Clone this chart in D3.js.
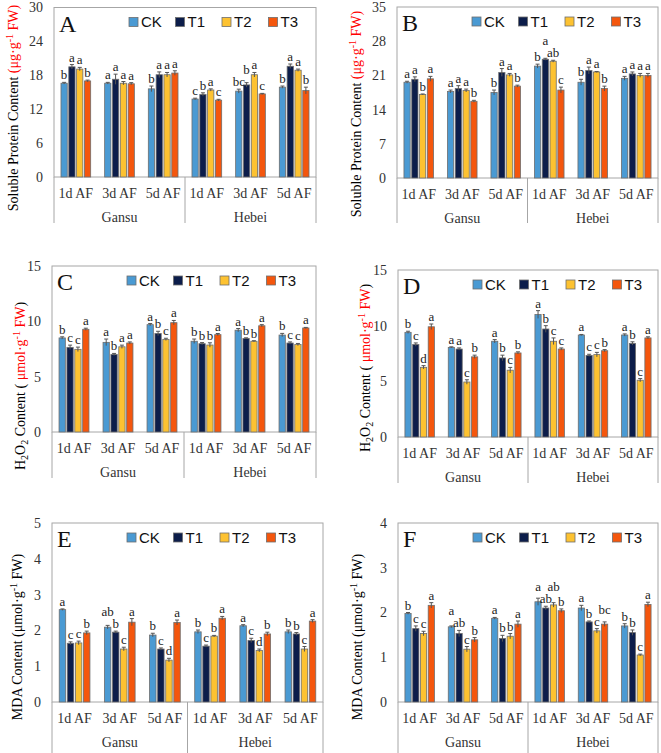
<!DOCTYPE html>
<html>
<head>
<meta charset="utf-8">
<script src="https://cdn.jsdelivr.net/npm/d3@7"></script>
<style>
  body { margin: 0; background: #fff; }
  svg { display: block; font-family: 'Liberation Serif', 'Times New Roman', serif; }
</style>
</head>
<body>
<div class="chart"></div>
<script>
// categories and series
var categories = ['1d AF', '3d AF', '5d AF', '1d AF', '3d AF', '5d AF'];
var groups = ['Gansu', 'Hebei'];
var series = ['CK', 'T1', 'T2', 'T3'];
var colors = ['#4a9ad3', '#0c1d4a', '#fdc231', '#f4560d'];

// y ticks per panel
var ticksA = [0, 6, 12, 18, 24, 30];
var ticksB = [0, 7, 14, 21, 28, 35];
var ticksC = [0, 5, 10, 15];
var ticksD = [0, 5, 10, 15];
var ticksE = [0, 1, 2, 3, 4, 5];
var ticksF = [0, 1, 2, 3, 4];

// A: soluble protein, rows = CK, T1, T2, T3
var valuesA = [
  [16.6, 16.6, 15.6, 13.8, 15.2, 15.9],
  [19.5, 17.3, 18.1, 14.6, 16.3, 19.6],
  [19.1, 16.6, 18.1, 15.4, 18.1, 18.9],
  [17.0, 16.5, 18.4, 13.6, 14.7, 15.3]
];
var errorsA = [
  [0.15, 0.15, 0.5, 0.15, 0.35, 0.2],
  [0.4, 0.9, 0.5, 0.3, 0.4, 0.4],
  [0.3, 0.3, 0.4, 0.2, 0.4, 0.2],
  [0.15, 0.2, 0.4, 0.15, 0.1, 0.6]
];
var lettersA = [
  ['b', 'a', 'b', 'c', 'bc', 'b'],
  ['a', 'a', 'a', 'b', 'b', 'a'],
  ['a', 'a', 'a', 'a', 'a', 'a'],
  ['b', 'a', 'a', 'c', 'c', 'b']
];

// B: soluble protein
var valuesB = [
  [19.6, 17.7, 17.5, 22.9, 19.6, 20.4],
  [20.2, 18.3, 21.6, 24.3, 22.0, 21.3],
  [17.1, 17.9, 21.1, 23.9, 21.7, 21.0],
  [20.3, 15.7, 18.8, 18.0, 18.3, 21.0]
];
var errorsB = [
  [0.2, 0.3, 0.5, 0.4, 0.6, 0.4],
  [0.5, 0.6, 0.8, 0.2, 0.7, 0.4],
  [0.1, 0.3, 0.3, 0.2, 0.1, 0.4],
  [0.5, 0.2, 0.2, 0.6, 0.5, 0.4]
];
var lettersB = [
  ['a', 'a', 'b', 'b', 'b', 'a'],
  ['a', 'a', 'a', 'a', 'a', 'a'],
  ['b', 'a', 'a', 'ab', 'a', 'a'],
  ['a', 'b', 'b', 'c', 'b', 'a']
];

// C: H2O2
var valuesC = [
  [8.5, 8.1, 9.7, 8.2, 9.2, 8.76],
  [7.65, 7.0, 8.9, 7.98, 8.46, 8.04],
  [7.47, 7.7, 8.37, 7.86, 8.2, 7.9],
  [9.28, 8.04, 9.88, 8.8, 9.6, 9.4]
];
var errorsC = [
  [0.1, 0.3, 0.1, 0.2, 0.15, 0.15],
  [0.2, 0.1, 0.2, 0.1, 0.05, 0.1],
  [0.2, 0.15, 0.1, 0.2, 0.05, 0.1],
  [0.1, 0.1, 0.2, 0.1, 0.1, 0.05]
];
var lettersC = [
  ['b', 'a', 'a', 'b', 'a', 'b'],
  ['c', 'b', 'b', 'b', 'b', 'c'],
  ['c', 'a', 'c', 'b', 'b', 'c'],
  ['a', 'a', 'a', 'a', 'a', 'a']
];

// D: H2O2
var valuesD = [
  [9.4, 8.05, 8.6, 11.0, 9.16, 9.16],
  [8.3, 7.9, 7.1, 9.7, 7.33, 8.4],
  [6.26, 4.94, 6.0, 8.6, 7.4, 5.1],
  [9.9, 7.2, 7.55, 7.9, 7.75, 8.9]
];
var errorsD = [
  [0.1, 0.05, 0.15, 0.35, 0.05, 0.1],
  [0.15, 0.1, 0.25, 0.3, 0.1, 0.15],
  [0.15, 0.2, 0.25, 0.3, 0.2, 0.15],
  [0.25, 0.15, 0.1, 0.1, 0.1, 0.1]
];
var lettersD = [
  ['b', 'a', 'a', 'a', 'a', 'a'],
  ['c', 'a', 'b', 'b', 'c', 'b'],
  ['d', 'c', 'c', 'c', 'c', 'c'],
  ['a', 'b', 'b', 'c', 'b', 'a']
];

// E: MDA
var valuesE = [
  [2.58, 2.09, 1.87, 1.96, 2.13, 1.96],
  [1.64, 1.95, 1.48, 1.56, 1.72, 1.9],
  [1.65, 1.48, 1.17, 1.84, 1.44, 1.48],
  [1.93, 2.23, 2.22, 2.34, 1.9, 2.26]
];
var errorsE = [
  [0.02, 0.05, 0.05, 0.05, 0.03, 0.05],
  [0.04, 0.03, 0.03, 0.03, 0.06, 0.04],
  [0.05, 0.05, 0.05, 0.02, 0.04, 0.07],
  [0.05, 0.1, 0.07, 0.05, 0.05, 0.04]
];
var lettersE = [
  ['a', 'ab', 'b', 'b', 'a', 'b'],
  ['c', 'b', 'c', 'c', 'c', 'b'],
  ['c', 'c', 'd', 'b', 'd', 'c'],
  ['b', 'a', 'a', 'a', 'b', 'a']
];

// F: MDA
var valuesF = [
  [1.98, 1.68, 1.87, 2.24, 2.1, 1.7],
  [1.64, 1.53, 1.42, 2.1, 1.79, 1.55],
  [1.53, 1.18, 1.47, 2.17, 1.59, 1.05],
  [2.16, 1.39, 1.74, 2.04, 1.74, 2.18]
];
var errorsF = [
  [0.02, 0.02, 0.02, 0.08, 0.06, 0.05],
  [0.06, 0.07, 0.07, 0.04, 0.02, 0.06],
  [0.05, 0.06, 0.06, 0.05, 0.05, 0.02],
  [0.06, 0.05, 0.07, 0.04, 0.05, 0.05]
];
var lettersF = [
  ['b', 'a', 'a', 'a', 'a', 'b'],
  ['c', 'ab', 'b', 'ab', 'b', 'b'],
  ['c', 'c', 'b', 'ab', 'c', 'c'],
  ['a', 'b', 'a', 'b', 'bc', 'a']
];

var red = '#ff0000';
var labelProtein = [['Soluble Protein Content  ', '#000'], ['(μg·g', red], ['-1', red, 'sup'], ['  FW)', red]];
var labelH2O2 = [['H', '#000'], ['2', '#000', 'sub'], ['O', '#000'], ['2', '#000', 'sub'], [' Content ( ', '#000'],
  ['μmol·g', red], ['-1', red, 'sup'], ['  FW', red], [')', '#000']];
var labelMDA = [['MDA Content (μmol·g', '#000'], ['-1', '#000', 'sup'], ['  FW)', '#000']];

var svg = d3.select('.chart')
  .append('svg')
    .attr('width', 661)
    .attr('height', 753);

var panels = [
  { id: 'A', values: valuesA, errors: errorsA, letters: lettersA, ticks: ticksA, label: labelProtein,
    left: 54, top: 7.5, right: 316, zero: 177, bottom: 223, labelX: 13, labelY: 108 },
  { id: 'B', values: valuesB, errors: errorsB, letters: lettersB, ticks: ticksB, label: labelProtein,
    left: 397, top: 7, right: 658, zero: 178, bottom: 223, labelX: 356, labelY: 114 },
  { id: 'C', values: valuesC, errors: errorsC, letters: lettersC, ticks: ticksC, label: labelH2O2,
    left: 52, top: 266, right: 316, zero: 432, bottom: 478, labelX: 20, labelY: 386 },
  { id: 'D', values: valuesD, errors: errorsD, letters: lettersD, ticks: ticksD, label: labelH2O2,
    left: 398, top: 270, right: 658, zero: 437, bottom: 483, labelX: 365, labelY: 368 },
  { id: 'E', values: valuesE, errors: errorsE, letters: lettersE, ticks: ticksE, label: labelMDA,
    left: 52, top: 523, right: 323, zero: 702, bottom: 753, labelX: 17, labelY: 637 },
  { id: 'F', values: valuesF, errors: errorsF, letters: lettersF, ticks: ticksF, label: labelMDA,
    left: 398, top: 523, right: 658, zero: 702, bottom: 753, labelX: 357, labelY: 637 }
];

panels.forEach(drawPanel);

function drawPanel(p) {
  var g = svg.append('g').attr('class', 'panel-' + p.id);
  var yMax = p.ticks[p.ticks.length - 1];

  var y = d3.scaleLinear().domain([0, yMax]).range([p.zero, p.top]);
  var x0 = d3.scaleBand().domain(d3.range(categories.length))
    .range([p.left, p.right]).paddingInner(0.32).paddingOuter(0.16);
  var x1 = d3.scaleBand().domain(series)
    .range([0, x0.bandwidth()]).paddingInner(0.2).paddingOuter(0);

  // plot frame
  g.append('rect')
    .attr('x', p.left).attr('y', p.top)
    .attr('width', p.right - p.left).attr('height', p.zero - p.top)
    .attr('fill', 'none').attr('stroke', '#a6a6a6').attr('stroke-width', 1);

  // y axis
  var yAxis = d3.axisLeft(y).tickValues(p.ticks).tickFormat(d3.format('d')).tickSize(0).tickPadding(11);
  var ax = g.append('g').attr('transform', 'translate(' + p.left + ',0)').call(yAxis);
  ax.select('.domain').remove();
  ax.selectAll('text').attr('font-size', 14).attr('font-family', 'Liberation Serif, serif').attr('fill', '#333');

  // bars
  var rows = [];
  series.forEach(function(s, si) {
    categories.forEach(function(c, ci) {
      rows.push({ s: s, si: si, ci: ci, v: p.values[si][ci], e: p.errors[si][ci], l: p.letters[si][ci] });
    });
  });

  g.selectAll('.bar')
    .data(rows)
    .enter()
    .append('rect')
      .attr('class', 'bar')
      .attr('x', d => x0(d.ci) + x1(d.s))
      .attr('y', d => y(d.v))
      .attr('width', x1.bandwidth())
      .attr('height', d => p.zero - y(d.v))
      .attr('fill', d => colors[d.si])
      .attr('stroke', '#6e6e6e')
      .attr('stroke-width', 0.8);

  // error bars
  var eb = g.selectAll('.err')
    .data(rows)
    .enter()
    .append('g')
      .attr('class', 'err')
      .attr('transform', d => 'translate(' + (x0(d.ci) + x1(d.s) + x1.bandwidth() / 2) + ',0)');
  eb.append('line')
    .attr('y1', d => y(d.v - d.e)).attr('y2', d => y(d.v + d.e))
    .attr('stroke', '#555').attr('stroke-width', 1);
  eb.append('line')
    .attr('x1', -2).attr('x2', 2)
    .attr('y1', d => y(d.v + d.e)).attr('y2', d => y(d.v + d.e))
    .attr('stroke', '#555').attr('stroke-width', 1);

  // significance letters
  var sig = g.selectAll('.sig')
    .data(rows)
    .enter()
    .append('text')
      .attr('class', 'sig')
      .attr('x', d => x0(d.ci) + x1(d.s) + x1.bandwidth() / 2)
      .attr('y', d => y(d.v + d.e) - 3)
      .attr('text-anchor', 'middle')
      .attr('font-size', 13)
      .attr('fill', '#222')
      .text(d => d.l);

  // nudge letters that bump into their left neighbour
  var gap = 12;
  sig.each(function(d) {
    d.lx = x0(d.ci) + x1(d.s) + x1.bandwidth() / 2;
    d.ly = y(d.v + d.e) - 3;
    d.lw = this.getComputedTextLength();
  });
  categories.forEach(function(c, ci) {
    var row = rows.filter(d => d.ci === ci).sort((a, b) => a.si - b.si);
    for (var i = 1; i < row.length; i++) {
      var a = row[i - 1], b = row[i];
      var overlapX = (a.lw + b.lw) / 2 - 0.8 > Math.abs(b.lx - a.lx);
      if (overlapX && Math.abs(b.ly - a.ly) < gap) {
        if (b.ly >= a.ly) a.ly = b.ly - gap;
        else b.ly = a.ly - gap;
      }
    }
  });
  sig.attr('y', d => d.ly);

  // category axis lines (multi-level)
  var mid = (p.left + p.right) / 2;
  [p.left, mid, p.right].forEach(function(xx) {
    g.append('line')
      .attr('x1', xx).attr('x2', xx)
      .attr('y1', p.zero).attr('y2', p.bottom)
      .attr('stroke', '#a6a6a6').attr('stroke-width', 1);
  });

  g.selectAll('.cat')
    .data(categories)
    .enter()
    .append('text')
      .attr('class', 'cat')
      .attr('x', (d, i) => x0(i) + x0.bandwidth() / 2)
      .attr('y', p.zero + 21)
      .attr('text-anchor', 'middle')
      .attr('font-size', 14)
      .attr('fill', '#333')
      .text(d => d);

  g.selectAll('.grp')
    .data(groups)
    .enter()
    .append('text')
      .attr('class', 'grp')
      .attr('x', (d, i) => i === 0 ? (p.left + mid) / 2 : (mid + p.right) / 2)
      .attr('y', p.zero + 45)
      .attr('text-anchor', 'middle')
      .attr('font-size', 14)
      .attr('fill', '#333')
      .text(d => d);

  // panel letter
  g.append('text')
    .attr('x', p.left + 5)
    .attr('y', p.top + 24)
    .attr('font-size', 24)
    .attr('fill', '#111')
    .text(p.id);

  // legend
  var leg = g.selectAll('.leg')
    .data(series)
    .enter()
    .append('g')
      .attr('class', 'leg')
      .attr('transform', (d, i) => 'translate(' + (p.left + 75 + i * 46.5) + ',' + (p.top + 10) + ')');
  leg.append('rect')
    .attr('width', 9).attr('height', 9)
    .attr('fill', (d, i) => colors[i])
    .attr('stroke', '#6e6e6e').attr('stroke-width', 0.8);
  leg.append('text')
    .attr('x', 12).attr('y', 9.5)
    .attr('font-family', 'Liberation Sans, Arial, sans-serif')
    .attr('font-size', 15)
    .attr('fill', '#111')
    .text(d => d);

  // y label (rotated)
  var lab = g.append('text')
    .attr('transform', 'rotate(-90)')
    .attr('x', -p.labelY)
    .attr('y', p.labelX + 5)
    .attr('text-anchor', 'middle')
    .attr('font-size', 14)
    .attr('fill', '#222');
  var shift = 0;
  p.label.forEach(function(part) {
    var target = part[2] === 'sup' ? -5 : part[2] === 'sub' ? 3 : 0;
    lab.append('tspan')
      .attr('dy', target - shift)
      .attr('font-size', part[2] ? 10 : 14)
      .attr('fill', part[1])
      .text(part[0]);
    shift = target;
  });
}
</script>
</body>
</html>
